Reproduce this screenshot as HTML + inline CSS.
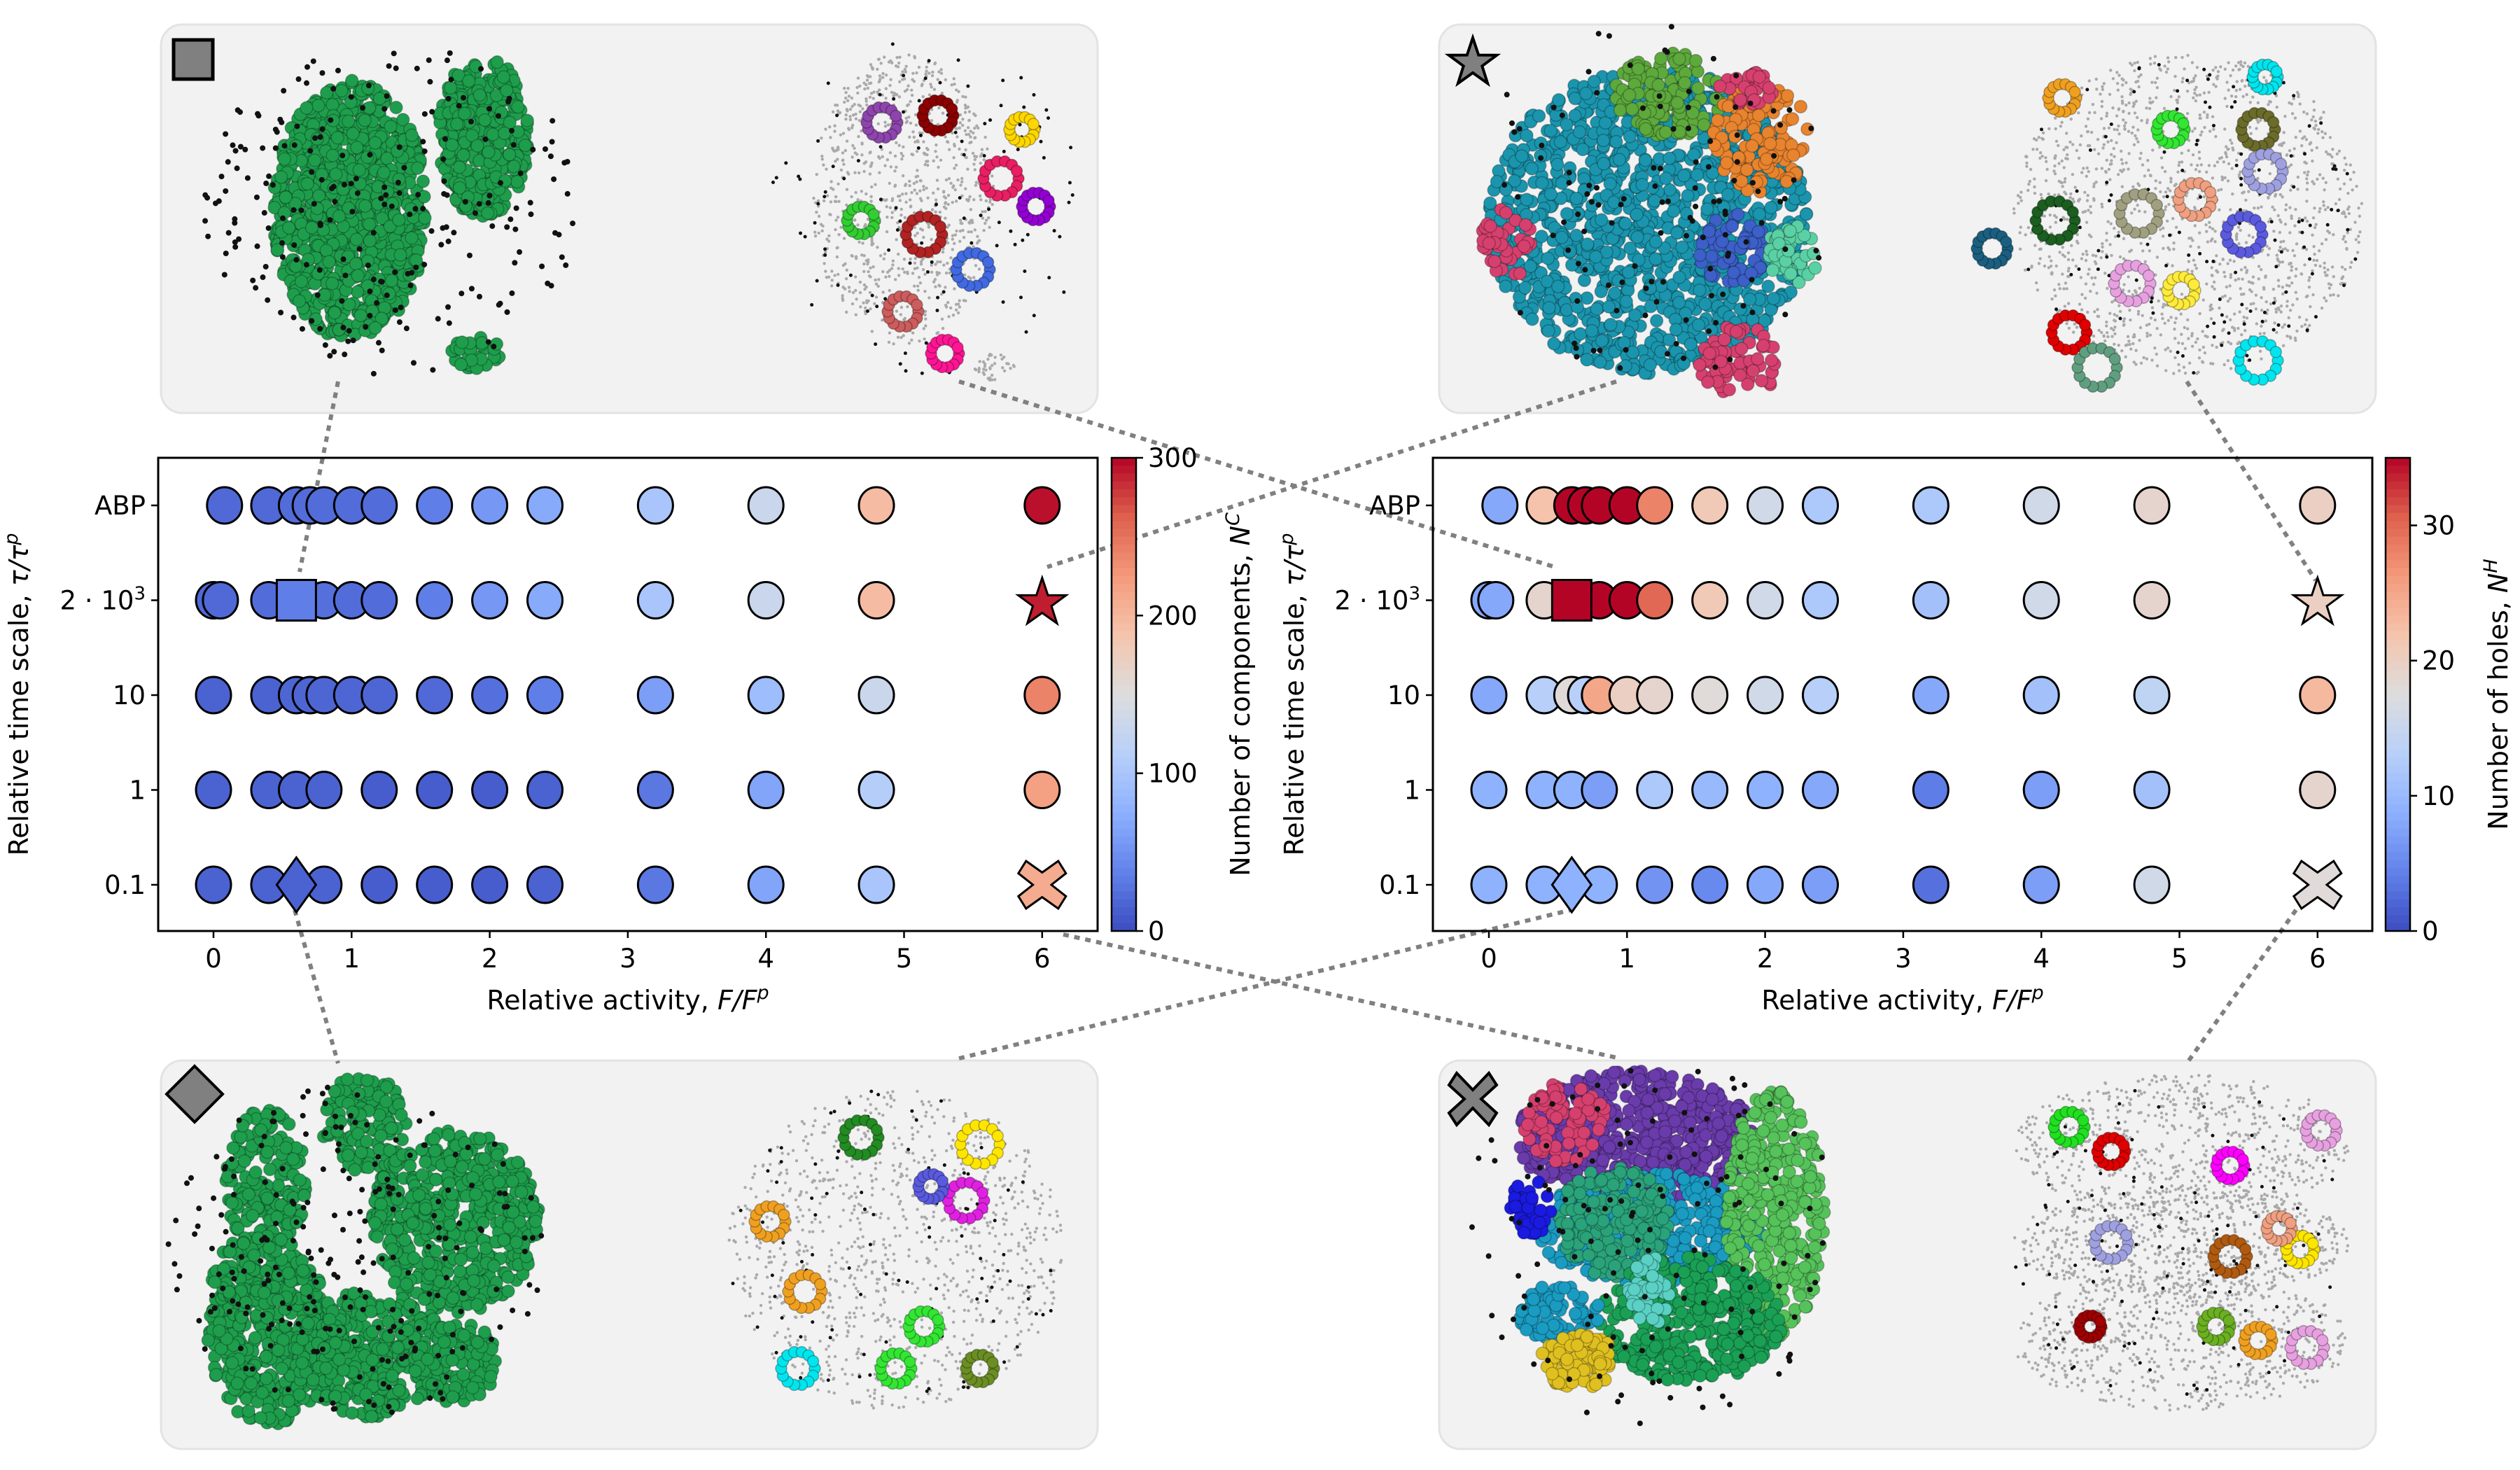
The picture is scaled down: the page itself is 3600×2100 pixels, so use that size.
<!DOCTYPE html>
<html><head><meta charset="utf-8"><style>
html,body{margin:0;padding:0;background:#fff}
svg{display:block}
text{font-family:"DejaVu Sans","Liberation Sans",sans-serif;fill:#000}
</style></head><body>
<svg id="fig" width="3600" height="2100" viewBox="0 0 3600 2100" xmlns="http://www.w3.org/2000/svg">
<g id="panels"></g>
<g id="connectors"></g>
<g id="chartL"></g>
<g id="chartR"></g>
</svg>
<script>
// ---- data ----
const rowLabels = ["ABP", "2 · 10³", "10", "1", "0.1"];
const xTickLabels = [0, 1, 2, 3, 4, 5, 6];
const rowXs = [
  [0.08,0.4,0.6,0.7,0.8,1.0,1.2,1.6,2,2.4,3.2,4,4.8,6],
  [0,0.05,0.4,0.7,0.8,1.0,1.2,1.6,2,2.4,3.2,4,4.8],
  [0,0.4,0.6,0.7,0.8,1.0,1.2,1.6,2,2.4,3.2,4,4.8,6],
  [0,0.4,0.6,0.8,1.2,1.6,2,2.4,3.2,4,4.8,6],
  [0,0.4,0.8,1.2,1.6,2,2.4,3.2,4,4.8]
];
const compVals = [
  [20,20,22,22,22,22,22,35,55,70,100,130,195,295],
  [20,20,22,25,25,22,22,35,55,70,100,130,195],
  [15,15,18,18,18,18,18,20,25,35,60,90,130,240],
  [15,15,15,15,12,12,12,15,30,65,110,220],
  [15,15,15,12,12,12,15,30,65,100]
];
const holeVals = [
  [8,22,35,35,35,35,28,21,16,12,12,16,19,20],
  [8,8,19,35,35,35,30,21,16,12,11,16,19],
  [8,13,18,13,25,20,19,18,16,13,8,11,14,23],
  [9,9,9,7,12,10,9,8,4,7,11,19],
  [9,9,9,6,5,8,7,3,7,16]
];
const compSpecial = {square:[0.6,1,35], star:[6,1,290], diamond:[0.6,4,15], cross:[6,4,210]};
const holeSpecial = {square:[0.6,1,35], star:[6,1,20], diamond:[0.6,4,9], cross:[6,4,18]};
const compTicks = [0,100,200,300];
const holeTicks = [0,10,20,30];

const NS="http://www.w3.org/2000/svg";
function mk(tag, attrs, parent){const e=document.createElementNS(NS,tag);for(const k in attrs)e.setAttribute(k,attrs[k]);parent.appendChild(e);return e;}
const cw=[[0,59,76,192],[0.125,98,130,234],[0.25,141,176,254],[0.375,184,208,249],[0.5,221,221,221],[0.625,245,196,173],[0.75,244,154,123],[0.875,222,96,77],[1,180,4,38]];
function cmap(t){t=Math.max(0,Math.min(1,t));for(let i=1;i<cw.length;i++){if(t<=cw[i][0]){const a=cw[i-1],b=cw[i],f=(t-a[0])/(b[0]-a[0]);return `rgb(${Math.round(a[1]+f*(b[1]-a[1]))},${Math.round(a[2]+f*(b[2]-a[2]))},${Math.round(a[3]+f*(b[3]-a[3]))})`;}}return "rgb(180,4,38)";}

function chart(g, o){
  const {L,R,T,B,x0,cbx,vmax,vals,special,ticks,ylab,cblab}=o;
  const xs=v=>x0+v*197.3;
  const ys=i=>722+i*135.5;
  const col=v=>cmap(v/vmax);
  const marks=mk('g',{},g);
  
  
  rowXs.forEach((row,i)=>row.forEach((xv,j)=>{
    const c=mk('ellipse',{cx:xs(xv),cy:ys(i),rx:25,ry:26,fill:col(vals[i][j]),stroke:'#000','stroke-width':3},marks);
    
    
  }));
  let s=special.square; let cx=xs(s[0]),cy=ys(s[1]);
  let e=mk('rect',{x:cx-28,y:cy-29,width:56,height:58,fill:col(s[2]),stroke:'#000','stroke-width':3},marks);
  
  s=special.star; cx=xs(s[0]); cy=ys(s[1]);
  let pts=[];for(let k=0;k<10;k++){const r=k%2?14:36,a=-Math.PI/2+k*Math.PI/5;pts.push((cx+r*Math.cos(a)).toFixed(1)+','+(cy+4+r*Math.sin(a)).toFixed(1));}
  e=mk('polygon',{points:pts.join(' '),fill:col(s[2]),stroke:'#000','stroke-width':3},marks);
  
  s=special.diamond; cx=xs(s[0]); cy=ys(s[1]);
  e=mk('polygon',{points:`${cx},${cy-39} ${cx+28},${cy} ${cx},${cy+39} ${cx-28},${cy}`,fill:col(s[2]),stroke:'#000','stroke-width':3},marks);
  
  s=special.cross; cx=xs(s[0]); cy=ys(s[1]);
  const a=34,w=11;
  e=mk('polygon',{points:`${cx-a+w},${cy-a} ${cx},${cy-w*1.6} ${cx+a-w},${cy-a} ${cx+a},${cy-a+w*1.6} ${cx+w*1.2},${cy} ${cx+a},${cy+a-w*1.6} ${cx+a-w},${cy+a} ${cx},${cy+w*1.6} ${cx-a+w},${cy+a} ${cx-a},${cy+a-w*1.6} ${cx-w*1.2},${cy} ${cx-a},${cy-a+w*1.6}`,fill:col(s[2]),stroke:'#000','stroke-width':3},marks);
  
  const fr=mk('rect',{x:L,y:T,width:R-L,height:B-T,fill:'none',stroke:'#000','stroke-width':3},g);
  
  xTickLabels.forEach(v=>{
    mk('line',{x1:xs(v),x2:xs(v),y1:B,y2:B+10,stroke:'#000','stroke-width':2.5},g);
    const t=mk('text',{x:xs(v),y:B+52,'font-size':37,'text-anchor':'middle'},g);t.textContent=v;
    
  });
  rowLabels.forEach((lab,i)=>{
    mk('line',{x1:L-10,x2:L,y1:ys(i),y2:ys(i),stroke:'#000','stroke-width':2.5},g);
    const t=mk('text',{x:L-18,y:ys(i)+13,'font-size':37,'text-anchor':'end'},g);
    if(i==1){t.innerHTML='2 · 10<tspan font-size="26" dy="-14">3</tspan>';}else t.textContent=lab;
    
  });
  let t=mk('text',{x:(L+R)/2,y:B+112,'font-size':38,'text-anchor':'middle'},g);
  t.innerHTML='Relative activity, <tspan font-style="italic">F/F</tspan><tspan font-style="italic" font-size="27" dy="-15">p</tspan>';
  
  t=mk('text',{x:0,y:0,'font-size':38,'text-anchor':'middle',transform:`translate(${ylab},${(T+B)/2}) rotate(-90)`},g);
  t.innerHTML='Relative time scale, <tspan font-style="italic">τ/τ</tspan><tspan font-style="italic" font-size="27" dy="-15">p</tspan>';
  
  const cb=mk('g',{},g);
  const n=60;for(let k=0;k<n;k++){mk('rect',{x:cbx,y:T+(B-T)*k/n,width:35,height:(B-T)/n+1,fill:cmap(1-(k+0.5)/n)},cb);}
  mk('rect',{x:cbx,y:T,width:35,height:B-T,fill:'none',stroke:'#000','stroke-width':2.5},cb);
  ticks.forEach(v=>{const y=B-(B-T)*v/vmax;mk('line',{x1:cbx+35,x2:cbx+45,y1:y,y2:y,stroke:'#000','stroke-width':2.5},cb);
    const tt=mk('text',{x:cbx+52,y:y+13,'font-size':37},cb);tt.textContent=v;
    });
  t=mk('text',{x:0,y:0,'font-size':38,'text-anchor':'middle',transform:`translate(${cblab},${(T+B)/2}) rotate(-90)`},g);
  t.innerHTML=cblab>3000?'Number of holes, <tspan font-style="italic">N</tspan><tspan font-style="italic" font-size="27" dy="-15">H</tspan>':'Number of components, <tspan font-style="italic">N</tspan><tspan font-style="italic" font-size="27" dy="-15">C</tspan>';
  
}
chart(document.getElementById('chartL'),{L:226,R:1568,T:654,B:1330,x0:305,cbx:1588,vmax:300,vals:compVals,special:compSpecial,ticks:compTicks,ylab:40,cblab:1785});
chart(document.getElementById('chartR'),{L:2047,R:3389,T:654,B:1330,x0:2127,cbx:3408,vmax:35,vals:holeVals,special:holeSpecial,ticks:holeTicks,ylab:1862,cblab:3582});

const cg=document.getElementById('connectors');
[[483,545,428,817],[1370,545,2221,810],[2309,545,1496,810],[3124,545,3308,829],[421,1300,483,1519],[1370,1512,2244,1300],[1519,1335,2314,1512],[3280,1300,3124,1519]].forEach(l=>{
  const e=mk('line',{x1:l[0],y1:l[1],x2:l[2],y2:l[3],stroke:'#808080','stroke-width':6,'stroke-dasharray':'8 8'},cg);
  
});

let seed=7;function rnd(){seed=(seed*16807)%2147483647;return seed/2147483647;}
const pg=document.getElementById('panels');
function panel(x,y,name,icon,blobs,gray,black,rings){
  const g=mk('g',{transform:`translate(${x},${y})`},pg);
  
  mk('rect',{x:0,y:0,width:1338,height:555,rx:30,fill:'#f2f2f2',stroke:'#e3e3e3','stroke-width':3},g);
  gray.forEach(b=>{for(let i=0;i<b[4];i++){const a=rnd()*6.283,r=Math.sqrt(rnd());mk('circle',{cx:b[0]+b[2]*r*Math.cos(a),cy:b[1]+b[3]*r*Math.sin(a),r:2.2,fill:'#aaa'},g);}});
  blobs.forEach(b=>{for(let i=0;i<b[5];i++){const a=rnd()*6.283,r=Math.sqrt(rnd());mk('circle',{cx:b[0]+b[2]*r*Math.cos(a),cy:b[1]+b[3]*r*Math.sin(a),r:b[6]||9,fill:b[4],stroke:'rgba(0,0,0,0.25)','stroke-width':1.5},g);}});
  black.forEach(b=>{for(let i=0;i<b[4];i++){const a=rnd()*6.283,r=Math.sqrt(rnd());mk('circle',{cx:b[0]+b[2]*r*Math.cos(a),cy:b[1]+b[3]*r*Math.sin(a),r:b[5]||4,fill:'#111'},g);}});
  rings.forEach(b=>{for(let i=0;i<14;i++){const a=i*6.283/14;mk('circle',{cx:b[0]+b[2]*Math.cos(a),cy:b[1]+b[2]*Math.sin(a),r:8,fill:b[3],stroke:'rgba(0,0,0,0.3)','stroke-width':1.5},g);}});
  const ic=mk('g',{},g);
  if(icon=='square')mk('rect',{x:18,y:22,width:56,height:56,fill:'#808080',stroke:'#000','stroke-width':5},ic);
  if(icon=='star'){let p=[];for(let k=0;k<10;k++){const r=k%2?14:36,a=-Math.PI/2+k*Math.PI/5;p.push((48+r*Math.cos(a))+','+(55+r*Math.sin(a)));}mk('polygon',{points:p.join(' '),fill:'#808080',stroke:'#000','stroke-width':4},ic);}
  if(icon=='diamond')mk('polygon',{points:'48,8 88,48 48,88 8,48',fill:'#808080',stroke:'#000','stroke-width':4},ic);
  if(icon=='cross')mk('polygon',{points:'25,18 48,42 71,18 82,35 60,55 82,75 71,92 48,68 25,92 14,75 36,55 14,35',fill:'#808080',stroke:'#000','stroke-width':4},ic);
}
panel(230,35,'panel-square','square',
  [[270,265,110,185,'#1e9e4c',900],[460,160,65,115,'#1e9e4c',330],[450,470,35,25,'#1e9e4c',40]],
  [[1060,250,130,210,900],[1190,490,30,20,40]],
  [[330,260,270,240,230],[1100,260,230,240,120,2.5]],
  [[1030,140,22,'#8e44ad'],[1110,130,22,'#8b0000'],[1200,220,25,'#e91e63'],[1000,280,20,'#32cd32'],[1090,300,26,'#b22222'],[1160,350,24,'#4169e1'],[1060,410,22,'#cd5c5c'],[1120,470,20,'#ff1493'],[1230,150,18,'#ffd700'],[1250,260,20,'#9400d3']]);
panel(2056,35,'panel-star','star',
  [[300,280,230,220,'#1a95ad',1100],[330,100,80,60,'#5da93c',120],[460,160,70,80,'#e8832e',110],[420,320,50,50,'#3c5fc8',60],[430,480,60,50,'#d6406e',70],[100,310,40,50,'#d6406e',40],[500,330,40,50,'#5ad1a4',50],[440,90,40,25,'#d6406e',30]],
  [[1070,270,250,230,1400]],
  [[300,260,260,260,120,4],[1070,270,250,230,140,2.5]],
  [[890,105,20,'#f0a020'],[1180,75,18,'#00e5ee'],[1170,150,24,'#6b6b2a'],[1045,150,20,'#32e632'],[1180,210,25,'#9fa0e0'],[880,280,28,'#1b5e20'],[1000,270,28,'#a0a080'],[1080,250,24,'#f0a080'],[1150,300,26,'#5a5ae0'],[990,370,26,'#e7a0e0'],[1060,380,20,'#ffeb3b'],[900,440,25,'#e00000'],[940,490,28,'#5f9f7f'],[1170,480,28,'#00e5ee'],[790,320,22,'#1a5f80']]);
panel(230,1515,'panel-diamond','diamond',
  [[150,170,60,100,'#1e9e4c',170],[290,90,60,70,'#1e9e4c',130],[420,230,120,130,'#1e9e4c',560],[160,400,95,120,'#1e9e4c',380],[300,420,110,90,'#1e9e4c',330],[420,430,60,60,'#1e9e4c',120],[140,300,70,50,'#1e9e4c',100]],
  [[1050,270,240,230,1000]],
  [[280,270,270,240,230],[1050,270,240,230,100,2.5]],
  [[1000,110,25,'#228b22'],[1170,120,28,'#ffe600'],[1150,200,26,'#e020e0'],[870,230,22,'#f0a020'],[920,330,24,'#f0a020'],[1090,380,22,'#32e632'],[910,440,24,'#00e5ee'],[1050,440,22,'#32e632'],[1170,440,20,'#6b8e23'],[1100,180,18,'#5a5ae0']]);
panel(2056,1515,'panel-cross','cross',
  [[280,110,170,95,'#6a3bab',550],[180,90,60,60,'#d6406e',80],[300,240,160,80,'#1a9bc2',400],[250,230,80,80,'#2aa37a',200],[480,220,70,180,'#55c25a',350],[360,370,130,90,'#1aa055',350],[170,360,60,40,'#1a9bc2',80],[200,430,55,40,'#e0c020',90],[130,210,30,40,'#1a1ae0',40],[300,330,30,50,'#5ad1c4',40]],
  [[1060,120,240,100,700],[1060,260,240,80,700],[1060,400,240,100,700]],
  [[300,260,280,260,130,4],[1060,260,240,240,120,2.5]],
  [[900,95,22,'#20e020'],[960,130,20,'#e00000'],[1130,150,20,'#ff00ff'],[1260,100,22,'#e7a0e0'],[960,260,24,'#9fa0e0'],[1130,280,24,'#b05a10'],[1230,270,20,'#ffe600'],[1200,240,18,'#f0a080'],[930,380,16,'#a00000'],[1110,380,20,'#6ab020'],[1170,400,20,'#f0a020'],[1240,410,24,'#e7a0e0']]);
</script>
</body></html>
